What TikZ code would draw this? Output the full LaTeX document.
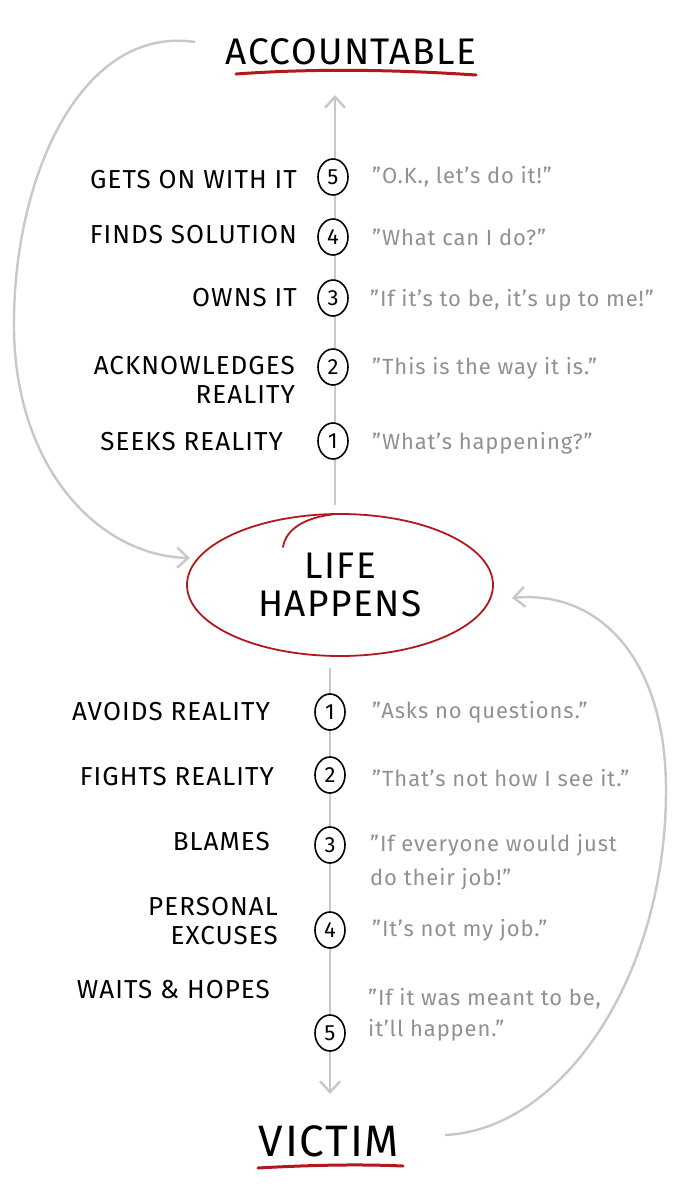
\documentclass[tikz,border=0pt]{standalone}
\usepackage{fontspec}
\setmainfont{Fira Sans}[LetterSpace=4]
\usetikzlibrary{arrows.meta,shapes.geometric}
\definecolor{accred}{RGB}{178,24,30}
\definecolor{linegray}{RGB}{200,200,200}
\definecolor{quotegray}{RGB}{145,145,145}
\tikzset{
  lbl/.style={anchor=east,font=\fontsize{26}{29}\selectfont,text=black,align=right,inner sep=0pt},
  quot/.style={anchor=west,font=\fontsize{22}{34}\selectfont,text=quotegray,align=left,inner sep=0pt},
  num/.style={ellipse,draw=black,line width=1.6pt,fill=white,minimum width=30pt,minimum height=36pt,inner sep=0pt,font=\fontsize{22}{22}\selectfont},
  axisline/.style={draw=linegray,line width=2.4pt},
  barb/.style={-{Straight Barb[length=11pt,width=20pt]}},
  title/.style={font=\fontsize{37}{37}\selectfont,inner sep=0pt},
  uline/.style={draw=accred,line width=3pt,line cap=round},
}
\begin{document}
\begin{tikzpicture}[x=1pt,y=-1pt]
\useasboundingbox (0,0) rectangle (676,1200);
\fill[white] (0,0) rectangle (676,1200);

% coordinates
\coordinate (ubot) at (335,505);
\coordinate (utop) at (335,95);
\coordinate (dtop) at (330,668);
\coordinate (dbot) at (330,1094);
\coordinate (lstart) at (195,42);
\coordinate (lend) at (190,558);
\coordinate (rstart) at (445,1135);
\coordinate (rend) at (512,598);

% axes
\draw[axisline,barb] (ubot) -- (utop);
\draw[axisline,barb] (dtop) -- (dbot);

% loop curves
\draw[axisline,barb] (lstart) .. controls (80,25) and (12,180) .. (14,330) .. controls (16,470) and (100,556) .. (lend);
\draw[axisline,barb] (rstart) .. controls (560,1130) and (666,980) .. (666,790) .. controls (666,660) and (600,590) .. (rend);

% titles
\node[title] (acc) at (351,52) {ACCOUNTABLE};
\draw[uline] (236,74) .. controls (320,68) and (400,70) .. (476,75);
\node[title,font=\fontsize{44}{44}\selectfont] (vic) at (329,1141) {VICTIM};
\draw[uline] (258,1168) .. controls (310,1165) and (360,1164) .. (403,1166);

% life happens
\node[ellipse,draw=accred,line width=1.8pt,minimum width=306pt,minimum height=142pt,inner sep=0pt,
      font=\fontsize{37}{38}\selectfont,align=center] (life) at (340,585) {LIFE\\HAPPENS};
\draw[accred,line width=1.8pt,line cap=round] (283,547) .. controls (286,529) and (305,517) .. (336,514);

% upper steps
\node[num] (a5) at (333,177) {5};
\node[num] (a4) at (333,237) {4};
\node[num] (a3) at (333,298) {3};
\node[num] (a2) at (333,367) {2};
\node[num] (a1) at (333,441) {1};

\node[lbl] (la5) at (297,180) {GETS ON WITH IT};
\node[lbl] (la4) at (297,235) {FINDS SOLUTION};
\node[lbl] (la3) at (297,298) {OWNS IT};
\node[lbl] (la2) at (295,380) {ACKNOWLEDGES\\REALITY};
\node[lbl] (la1) at (283,442) {SEEKS REALITY};

\node[quot] (qa5) at (372,177) {"O.K., let's do it!"};
\node[quot] (qa4) at (372,237) {"What can I do?"};
\node[quot] (qa3) at (370,300) {"If it's to be, it's up to me!"};
\node[quot] (qa2) at (372,368) {"This is the way it is."};
\node[quot] (qa1) at (372,443) {"What's happening?"};

% lower steps
\node[num] (v1) at (330,712) {1};
\node[num] (v2) at (330,775) {2};
\node[num] (v3) at (330,845) {3};
\node[num] (v4) at (330,930) {4};
\node[num] (v5) at (330,1033) {5};

\node[lbl] (lv1) at (270,712) {AVOIDS REALITY};
\node[lbl] (lv2) at (274,777) {FIGHTS REALITY};
\node[lbl] (lv3) at (270,842) {BLAMES};
\node[lbl] (lv4) at (278,921) {PERSONAL\\EXCUSES};
\node[lbl] (lv5) at (270,990) {WAITS \& HOPES};

\node[quot] (qv1) at (372,712) {"Asks no questions."};
\node[quot] (qv2) at (372,778) {"That's not how I see it."};
\node[quot] (qv3) at (370,862) {"If everyone would just\\do their job!"};
\node[quot] (qv4) at (372,930) {"It's not my job."};
\node[quot,font=\fontsize{22}{31}\selectfont] (qv5) at (368,1015) {"If it was meant to be,\\it'll happen."};
\end{tikzpicture}
\end{document}
